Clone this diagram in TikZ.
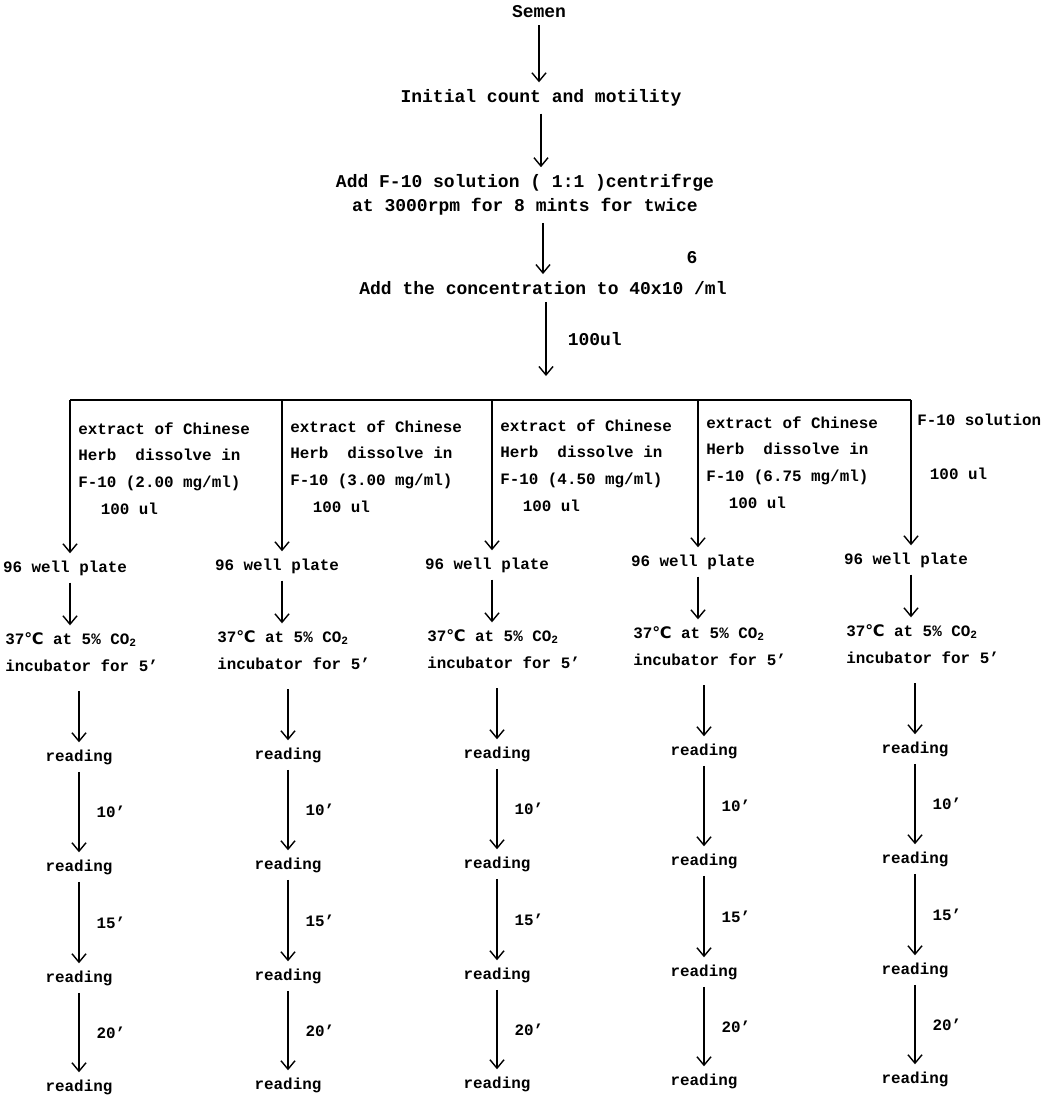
\documentclass[tikz,border=0pt]{standalone}
\usepackage{fontspec}
\setmainfont{Liberation Mono}
\newfontfamily\symfont{DejaVu Sans}
\usetikzlibrary{arrows.meta, positioning, calc}

\newcommand{\degC}{{\symfont ℃}}
\newcommand{\toptext}{\fontsize{12.8}{17}\selectfont\bfseries}
\newcommand{\lowtext}{\fontsize{11.3}{19}\selectfont\bfseries}

\begin{document}
\begin{tikzpicture}[x=0.025cm, y=-0.025cm,
    uppertxt/.style={font=\toptext, inner xsep=0pt, inner ysep=5pt, align=center},
    lowertxt/.style={font=\lowtext, inner xsep=0pt, inner ysep=5pt},
    flow/.style={line width=1pt, -{Straight Barb[length=6pt, width=10pt]}},
    timelbl/.style={font=\lowtext, inner sep=0pt, right=12pt}]
    \useasboundingbox (0,0) rectangle (1049,1100);

    % Sample preparation
    \node[uppertxt] (semen) at (539,12) {Semen};
    \node[uppertxt] (count) at (541,98) {Initial count and motility};
    \node[uppertxt] (wash) at (525,195) {Add F-10 solution ( 1:1 )centrifrge\\at 3000rpm for 8 mints for twice};
    \node[uppertxt] (conc) at (543,288) {Add the concentration to 40x10 /ml};
    \node[uppertxt, inner sep=0pt] (power) at (692,258) {6};
    \coordinate (fork) at (546,376);

    \draw[flow] (semen) -- (semen |- count.north);
    \draw[flow] (count) -- (count |- wash.north);
    \draw[flow] (wash.south -| conc) -- (conc);
    \draw[flow] (conc.south -| fork) -- (fork) node[midway, right=15pt, font=\toptext, inner sep=0pt] {100ul};

    % Five test wells
    \foreach \i/\x/\xr/\dy in {1/70/79/0, 2/282/288/-2, 3/492/497/-3, 4/698/704/-6, 5/911/915/-8} {
        \coordinate (top\i) at (\x,400);
        \node[lowertxt] (well\i) at (\x-5,568+\dy) {96 well plate};
        \node[lowertxt, align=left, anchor=west] (incub\i) at (\x-65,652+\dy) {37\degC{} at 5\% CO\textsubscript{2}\\incubator for 5'};
        \node[lowertxt] (ra\i) at (\xr,757+\dy) {reading};
        \node[lowertxt] (rb\i) at (\xr,867+\dy) {reading};
        \node[lowertxt] (rc\i) at (\xr,978+\dy) {reading};
        \node[lowertxt] (rd\i) at (\xr,1087+\dy) {reading};

        \draw[flow] (top\i) -- (top\i |- well\i.north);
        \draw[flow] (well\i.south -| top\i) -- (incub\i.north -| top\i);
        \draw[flow, shorten <=9pt] (incub\i.south -| ra\i) -- (ra\i);
        \draw[flow] (ra\i) -- (rb\i) node[timelbl, midway] {10'};
        \draw[flow] (rb\i) -- (rc\i) node[timelbl, midway] {15'};
        \draw[flow] (rc\i) -- (rd\i) node[timelbl, midway] {20'};
    }
    \draw[line width=1pt] (top1) -- (top5);

    % What goes into each well
    \foreach \i/\x/\dy/\conc in {1/70/0/2.00, 2/282/-2/3.00, 3/492/-3/4.50, 4/698/-6/6.75}
        \node[lowertxt, inner sep=0pt, align=left, anchor=north west] (herb\i) at (\x+8,422+\dy) {extract of Chinese\\Herb~~dissolve in\\F-10 (\conc{} mg/ml)\\\hspace*{16pt}100 ul};
    \node[lowertxt, inner sep=0pt, align=left, anchor=north west] (plain) at (917,414) {F-10 solution\\[19pt]\hspace*{9pt}100 ul};
\end{tikzpicture}
\end{document}
